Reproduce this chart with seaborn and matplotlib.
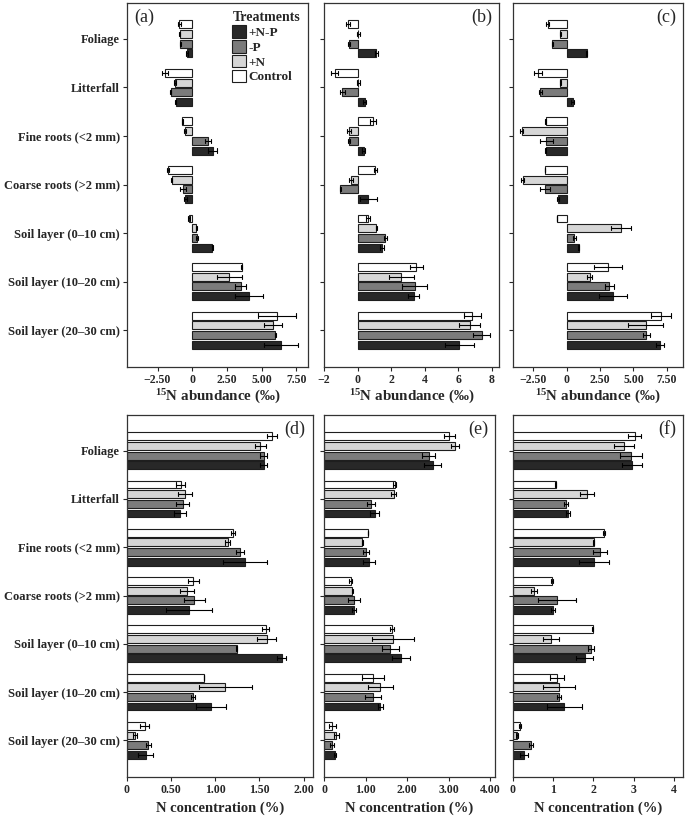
import numpy as np
import pandas as pd
import matplotlib
matplotlib.use("Agg")
import matplotlib.pyplot as plt
from matplotlib.patches import Patch
import seaborn as sns

sns.set_style("ticks")
plt.rcParams["font.family"] = ["Liberation Serif", "DejaVu Serif"]
plt.rcParams["font.weight"] = "bold"
plt.rcParams["mathtext.default"] = "regular"

categories = ["Foliage", "Litterfall", "Fine roots (<2 mm)", "Coarse roots (>2 mm)",
              "Soil layer (0–10 cm)", "Soil layer (10–20 cm)", "Soil layer (20–30 cm)"]
treatments = ["Control", "+N", "-P", "+N-P"]          # top-to-bottom within a group
legend_order = ["+N-P", "-P", "+N", "Control"]
colors = {"Control": "#ffffff", "+N": "#d6d6d6", "-P": "#7b7b7b", "+N-P": "#282828"}

# ---- 15N abundance (‰) ; rows = categories, cols = Control, +N, -P, +N-P
a_mean = [[-0.94, -0.91, -0.87, -0.36],
          [-1.95, -1.25, -1.56, -1.20],
          [-0.72, -0.50, 1.13, 1.47],
          [-1.73, -1.49, -0.67, -0.50],
          [-0.24, 0.31, 0.36, 1.44],
          [3.56, 2.67, 3.49, 4.11],
          [6.13, 5.84, 6.00, 6.42]]
a_err = [[0.10, 0.05, 0.03, 0.06],
         [0.20, 0.05, 0.05, 0.05],
         [0.05, 0.06, 0.20, 0.30],
         [0.05, 0.05, 0.20, 0.10],
         [0.05, 0.05, 0.06, 0.04],
         [0.05, 0.90, 0.40, 1.00],
         [1.38, 0.67, 0.02, 1.24]]
b_mean = [[-0.58, 0.05, -0.52, 1.12],
          [-1.37, 0.04, -0.90, 0.42],
          [0.92, -0.52, -0.52, 0.36],
          [1.06, -0.40, -1.02, 0.64],
          [0.62, 1.10, 1.65, 1.45],
          [3.50, 2.61, 3.39, 3.33],
          [6.83, 6.67, 7.39, 6.06]]
b_err = [[0.12, 0.10, 0.05, 0.10],
         [0.20, 0.10, 0.15, 0.08],
         [0.20, 0.10, 0.05, 0.08],
         [0.10, 0.10, 0.03, 0.50],
         [0.10, 0.03, 0.10, 0.10],
         [0.38, 0.74, 0.75, 0.30],
         [0.50, 0.64, 0.50, 0.87]]
c_mean = [[-1.42, -0.47, -1.05, 1.52],
          [-2.14, -0.47, -1.97, 0.47],
          [-1.57, -3.34, -1.52, -1.57],
          [-1.60, -3.27, -1.60, -0.65],
          [-0.72, 4.04, 0.57, 0.90],
          [3.12, 1.72, 3.19, 3.47],
          [7.03, 5.91, 5.96, 6.96]]
c_err = [[0.10, 0.05, 0.03, 0.03],
         [0.30, 0.05, 0.10, 0.10],
         [0.05, 0.10, 0.50, 0.05],
         [0.02, 0.10, 0.40, 0.10],
         [0.02, 0.75, 0.10, 0.05],
         [1.06, 0.20, 0.35, 1.06],
         [0.75, 1.30, 0.25, 0.30]]

# ---- N concentration (%)
d_mean = [[1.64, 1.51, 1.55, 1.55],
          [0.61, 0.66, 0.63, 0.60],
          [1.20, 1.14, 1.28, 1.34],
          [0.75, 0.68, 0.76, 0.70],
          [1.57, 1.58, 1.24, 1.75],
          [0.87, 1.11, 0.75, 0.95],
          [0.20, 0.09, 0.24, 0.21]]
d_err = [[0.06, 0.06, 0.04, 0.04],
         [0.05, 0.08, 0.07, 0.07],
         [0.02, 0.03, 0.05, 0.25],
         [0.06, 0.08, 0.12, 0.26],
         [0.04, 0.11, 0.01, 0.05],
         [0.00, 0.30, 0.02, 0.17],
         [0.05, 0.02, 0.03, 0.08]]
e_mean = [[3.02, 3.15, 2.52, 2.62],
          [1.70, 1.68, 1.14, 1.22],
          [1.06, 0.92, 1.02, 1.08],
          [0.64, 0.68, 0.72, 0.72],
          [1.64, 1.66, 1.60, 1.86],
          [1.18, 1.36, 1.18, 1.36],
          [0.20, 0.30, 0.20, 0.26]]
e_err = [[0.13, 0.10, 0.15, 0.20],
         [0.03, 0.06, 0.10, 0.10],
         [0.00, 0.01, 0.07, 0.15],
         [0.04, 0.01, 0.15, 0.04],
         [0.04, 0.50, 0.20, 0.22],
         [0.27, 0.30, 0.20, 0.06],
         [0.08, 0.07, 0.05, 0.02]]
f_mean = [[3.03, 2.76, 2.94, 2.96],
          [1.06, 1.84, 1.31, 1.38],
          [2.27, 2.01, 2.16, 2.01],
          [0.97, 0.52, 1.10, 1.00],
          [1.98, 0.95, 1.94, 1.78],
          [1.09, 1.15, 1.14, 1.28],
          [0.17, 0.10, 0.45, 0.28]]
f_err = [[0.16, 0.25, 0.28, 0.25],
         [0.02, 0.17, 0.05, 0.05],
         [0.02, 0.01, 0.17, 0.37],
         [0.03, 0.08, 0.47, 0.05],
         [0.01, 0.20, 0.07, 0.20],
         [0.17, 0.40, 0.05, 0.43],
         [0.03, 0.02, 0.05, 0.10]]

panel_tags = ["(a)", "(b)", "(c)", "(d)", "(e)", "(f)"]
xticks_list = [[-2.5, 0, 2.5, 5, 7.5], [-2, 0, 2, 4, 6, 8], [-2.5, 0, 2.5, 5, 7.5],
               [0, 0.5, 1, 1.5, 2], [0, 1, 2, 3, 4], [0, 1, 2, 3, 4]]
xticklabels_list = [["−2.50", "0", "2.50", "5.00", "7.50"],
                    ["−2", "0", "2", "4", "6", "8"],
                    ["−2.50", "0", "2.50", "5.00", "7.50"],
                    ["0", "0.50", "1.00", "1.50", "2.00"],
                    ["0", "1.00", "2.00", "3.00", "4.00"],
                    ["0", "1", "2", "3", "4"]]
xlims = [(-4.7, 8.35), (-2.0, 8.42), (-4.0, 8.7), (0, 2.106), (0, 4.12), (0, 4.23)]
xlabel_top = r"$^{15}$N abundance (‰)"
xlabel_bottom = "N concentration (%)"

means = [a_mean, b_mean, c_mean, d_mean, e_mean, f_mean]
errs = [a_err, b_err, c_err, d_err, e_err, f_err]


def build_frame(mean, err):
    rows = []
    for ci, cat in enumerate(categories):
        for ti, tr in enumerate(treatments):
            m, e = mean[ci][ti], err[ci][ti]
            rows.append((cat, tr, m - e))
            rows.append((cat, tr, m + e))
    return pd.DataFrame(rows, columns=["category", "treatment", "value"])


W, H = 685, 824
fig = plt.figure(figsize=(W / 100, H / 100), dpi=100)

lefts = [127, 324, 513]
widths_top = [181, 175, 170]
widths_bot = [186, 171, 170]
top_row = (3, 367)
bot_row = (415, 777)

axes = []
for r in range(2):
    for c in range(3):
        y0, y1 = top_row if r == 0 else bot_row
        w = widths_top[c] if r == 0 else widths_bot[c]
        ax = fig.add_axes([lefts[c] / W, 1 - y1 / H, w / W, (y1 - y0) / H])
        axes.append(ax)

for i, ax in enumerate(axes):
    df = build_frame(means[i], errs[i])
    sns.barplot(data=df, x="value", y="category", hue="treatment",
                order=categories, hue_order=treatments, palette=colors,
                estimator="mean", errorbar=("pi", 100), capsize=0.35,
                err_kws={"color": "black", "linewidth": 0.8},
                edgecolor="#1e1e1e", linewidth=0.8, width=0.8, gap=0.18,
                orient="h", legend=False, ax=ax)
    ax.set_ylim(6.76, -0.74)
    ax.set_xlim(*xlims[i])
    ax.set_xticks(xticks_list[i])
    ax.set_xticklabels(xticklabels_list[i], fontsize=8.5, fontweight="bold")
    ax.set_ylabel("")
    if i < 3:
        ax.set_xlabel(xlabel_top, fontsize=10.8, fontweight="bold", labelpad=1)
    else:
        ax.set_xlabel(xlabel_bottom, fontsize=10.5, fontweight="bold", labelpad=4)
    ax.tick_params(axis="both", direction="out", length=3, width=0.8, pad=2)
    ax.set_yticks(range(len(categories)))
    if i % 3 == 0:
        ax.set_yticklabels(categories, fontsize=9, fontweight="bold")
    else:
        ax.set_yticklabels([])
    for s in ax.spines.values():
        s.set_visible(True)
        s.set_linewidth(0.9)
        s.set_color("#333333")
    if i == 0:
        ax.text(0.04, 0.985, panel_tags[i], transform=ax.transAxes, ha="left", va="top",
                fontsize=13, fontweight="normal")
    else:
        ax.text(0.96, 0.985, panel_tags[i], transform=ax.transAxes, ha="right", va="top",
                fontsize=13, fontweight="normal")

handles = [Patch(facecolor=colors[t], edgecolor="#1e1e1e", linewidth=0.8, label=t)
           for t in legend_order]
leg = axes[0].legend(handles=handles, title="Treatments", loc="upper right",
                     bbox_to_anchor=(1.0, 1.0), frameon=False, fontsize=9.5,
                     title_fontsize=10, handlelength=1.0, handleheight=1.1,
                     handletextpad=0.25, labelspacing=0.08, borderaxespad=0.2,
                     alignment="left")
leg.get_title().set_fontweight("bold")
for t in leg.get_texts():
    t.set_fontweight("bold")

fig.savefig("out.png", dpi=100)
